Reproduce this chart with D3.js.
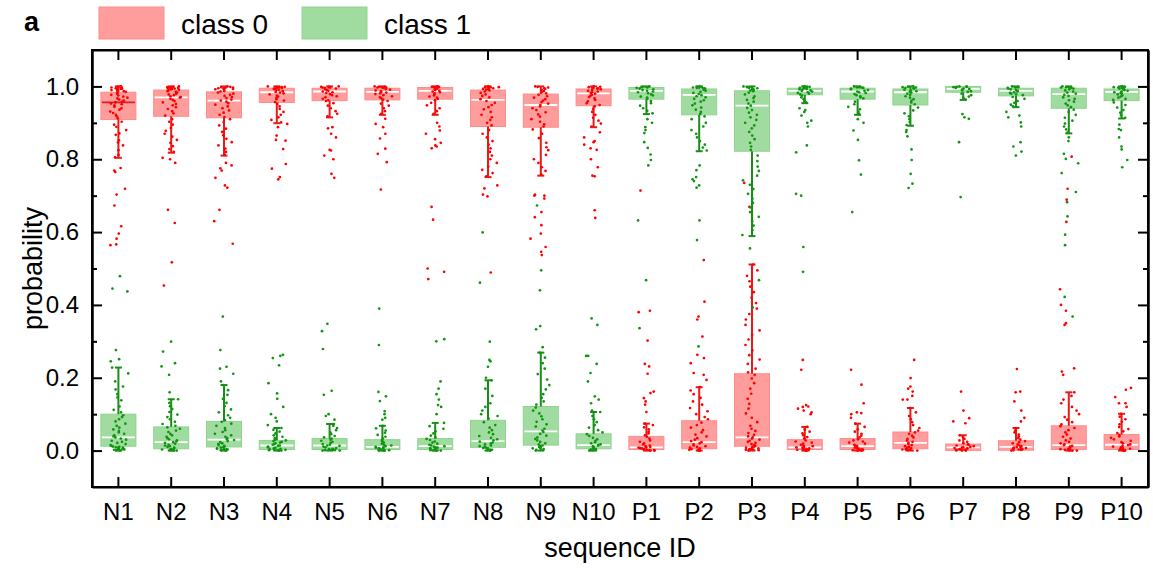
<!DOCTYPE html>
<html>
<head>
    <title>probability by sequence</title>
    <script src="https://cdnjs.cloudflare.com/ajax/libs/d3/7.8.5/d3.min.js"></script>
    <style>
        body { margin: 0; background: #fff; }
        text { font-family: "Liberation Sans", Arial, sans-serif; }
    </style>
</head>
<body>
    <div id="vis"></div>

    <script>
        var categories = ["N1","N2","N3","N4","N5","N6","N7","N8","N9","N10",
                          "P1","P2","P3","P4","P5","P6","P7","P8","P9","P10"];

        // box stats per sequence: [whisker low, q1, median, q3, whisker high]
        var class0Box = [
            [0.804,0.909,0.956,0.984,1.0], [0.818,0.918,0.970,0.990,1.0], [0.810,0.914,0.961,0.985,1.0],
            [0.899,0.956,0.984,0.995,1.0], [0.915,0.961,0.986,0.995,1.0], [0.922,0.963,0.985,0.995,1.0],
            [0.922,0.965,0.988,0.997,1.0], [0.751,0.890,0.963,0.990,1.0], [0.755,0.888,0.949,0.979,1.0],
            [0.888,0.947,0.981,0.993,1.0],
            [0,0.003,0.009,0.039,0.074], [0,0.005,0.023,0.082,0.174], [0,0.012,0.036,0.211,0.511],
            [0,0.003,0.009,0.030,0.065], [0,0.003,0.012,0.033,0.074], [0,0.005,0.021,0.051,0.117],
            [0,0.0,0.009,0.018,0.042], [0,0.001,0.010,0.027,0.062], [0,0.003,0.015,0.068,0.160],
            [0,0.003,0.016,0.044,0.101]
        ];
        var class1Box = [
            [0,0.012,0.036,0.100,0.228], [0,0.005,0.023,0.065,0.141], [0,0.010,0.030,0.080,0.180],
            [0,0.003,0.014,0.028,0.062], [0,0.003,0.014,0.033,0.073], [0,0.003,0.010,0.030,0.068],
            [0,0.003,0.012,0.033,0.076], [0,0.009,0.026,0.083,0.193], [0,0.015,0.053,0.121,0.269],
            [0,0.005,0.015,0.046,0.106],
            [0.924,0.965,0.988,0.997,1.0], [0.822,0.922,0.977,0.993,1.0], [0.589,0.822,0.947,0.988,1.0],
            [0.954,0.977,0.988,0.995,1.0], [0.922,0.965,0.986,0.995,1.0], [0.892,0.949,0.984,0.993,1.0],
            [0.963,0.984,0.993,1.0,1.0], [0.943,0.974,0.988,0.995,1.0], [0.871,0.940,0.979,0.995,1.0],
            [0.912,0.961,0.985,0.993,1.0]
        ];

        // single predictions, in thousandths
        var class0Pts = [
            "564 566 582 596 616 673 703 719 765 769 776 805 812 825 838 846 852 867 871 880 889 895 903 912 918 922 927 931 936 940 944 948 951 953 956 958 961 964 967 969 972 975 977 980 982 983 985 987 989 990 992 993 994 995 996 997 998 999 1000 999 997",
            "453 517 625 661 790 800 804 820 828 836 845 853 862 870 878 886 895 903 910 920 926 932 938 943 948 952 956 960 963 966 969 971 973 976 978 980 983 985 987 989 991 992 993 994 995 996 997 998 999 1000 998 996",
            "568 630 661 722 728 749 769 775 783 790 812 820 829 838 847 856 866 875 884 893 902 910 916 922 928 934 940 945 950 954 958 961 964 968 971 974 977 980 983 986 988 990 992 994 995 996 997 998 999 1000 993",
            "745 751 774 787 828 851 853 865 888 897 901 908 915 922 930 938 945 952 957 961 965 969 972 975 978 981 983 985 987 989 991 993 994 996 997 998 999 1000 999 998 997",
            "749 760 800 810 824 826 860 870 885 888 918 925 932 940 947 954 960 962 966 970 973 976 979 982 984 986 988 990 992 994 996 997 998 999 1000 999 997",
            "717 792 815 829 857 870 888 897 911 925 932 940 947 953 960 964 967 970 973 976 979 981 983 985 987 989 991 993 994 996 997 998 999 1000 999 998",
            "471 491 500 634 669 830 835 838 845 855 870 879 890 900 925 932 940 948 955 962 966 969 972 975 978 981 984 986 988 990 992 994 996 997 998 999 1000 999 998",
            "489 698 703 720 728 753 762 771 780 790 800 810 820 830 840 850 860 870 880 893 900 908 915 922 930 937 943 949 955 960 965 970 974 978 982 986 989 991 993 995 996 997 998 999 1000 998 994",
            "537 546 559 582 596 619 641 655 692 700 700 703 758 768 778 790 800 812 825 833 845 858 870 882 890 896 903 910 917 923 929 935 940 945 949 953 957 961 965 969 973 977 981 984 987 990 993 995 997 999 1000",
            "639 660 753 755 778 800 826 830 840 847 850 860 874 890 898 906 914 922 930 938 945 949 954 959 963 967 971 974 977 980 982 984 986 988 990 992 994 995 996 997 998 999 1000",
            "106 126 135 144 158 162 211 231 238 302 380 384 714 42 47 52 58 64 70 74 4 5 6 7 8 9 10 12 14 17 20 24 28 33 38 0 1 2 0 1",
            "194 208 213 240 254 263 313 360 368 409 523 86 92 100 108 117 126 135 145 155 165 174 6 8 10 12 14 17 20 23 26 30 34 39 44 50 56 63 70 77 0 1 2 3 4 0 2",
            "669 735 215 225 238 250 262 275 290 305 318 330 345 360 375 390 405 420 435 450 465 480 495 511 13 15 18 21 24 27 30 33 36 39 43 48 54 60 68 78 90 102 115 128 142 156 170 185 198 208 0 1 2 3 4 5 6 8 10 11",
            "100 105 110 115 120 121 125 222 249 33 37 42 47 52 58 65 4 5 6 7 8 9 10 12 14 16 19 22 25 28 0 1 2 0 1",
            "90 100 103 105 130 181 222 36 41 46 52 58 65 74 4 5 6 8 10 12 14 16 19 22 25 28 31 0 1 2 0 1",
            "140 140 150 162 170 176 199 249 55 62 70 78 86 95 105 117 6 8 10 12 15 18 21 24 28 32 36 41 46 50 0 1 2 3 4",
            "75 80 89 110 162 20 24 28 32 37 42 1 2 3 4 5 6 7 8 9 10 12 14 16 17 0 0 1",
            "80 90 110 135 160 162 224 30 34 39 44 50 56 62 2 3 4 5 6 7 8 9 10 12 14 17 20 23 26 0 1",
            "208 217 226 345 350 384 400 443 628 689 719 807 72 78 85 92 100 110 120 130 140 150 160 4 5 7 9 11 13 15 17 20 24 28 33 38 44 50 56 62 67 0 1 2 0 1",
            "120 130 130 147 167 172 48 53 59 65 72 79 86 93 101 4 5 7 9 11 13 15 17 20 23 27 31 35 39 43 0 1 2 0 1"
        ];
        var class1Pts = [
            "437 445 479 276 251 245 105 112 121 138 146 155 168 176 190 212 228 13 15 18 21 24 27 30 33 36 39 42 46 50 54 58 63 68 74 80 86 92 97 1 2 3 4 5 6 7 8 9 10 11 0 2 5",
            "160 208 231 240 272 299 68 73 79 86 92 99 106 114 122 131 141 6 8 10 12 14 16 19 21 23 25 28 31 34 38 42 46 51 55 60 64 0 1 1 2 3 4 0 2",
            "190 211 225 230 276 368 84 90 97 105 113 122 131 142 153 166 180 11 13 15 18 20 23 26 29 31 34 38 42 46 51 56 62 68 74 79 0 1 2 3 4 5 6 8 9",
            "70 80 90 100 120 142 157 185 234 254 260 263 30 34 38 42 47 52 57 62 4 5 6 8 9 11 13 14 16 18 20 22 24 26 28 0 1 2 3 0 1",
            "85 95 100 153 164 279 328 348 36 40 45 50 56 62 68 73 4 5 7 9 11 13 14 16 18 21 24 27 30 33 0 1 2 0 1 2",
            "85 90 100 108 136 149 161 290 390 33 38 43 49 55 61 68 4 5 6 7 8 9 10 12 14 16 19 22 25 28 0 1 2 0 1 2",
            "100 120 125 140 155 170 190 300 306 36 41 47 53 60 67 76 4 5 6 8 9 11 12 14 16 19 22 25 29 32 0 1 2 0 1",
            "200 230 245 249 299 461 599 88 95 100 110 120 130 150 170 193 10 12 14 17 19 22 25 28 31 35 40 45 50 56 63 70 78 0 1 2 3 5 7 8",
            "284 333 342 440 495 673 126 135 145 155 168 180 195 210 225 240 255 269 17 20 24 28 32 36 41 46 51 55 60 66 72 79 86 94 102 110 118 0 2 4 6 8 10 12 14",
            "110 130 140 149 190 213 238 260 260 345 363 50 56 63 70 78 86 95 106 6 8 10 12 14 15 17 20 23 27 31 35 40 45 0 1 2 3 4",
            "336 468 632 783 798 813 831 847 872 880 888 900 910 926 933 940 947 954 960 966 969 972 975 978 981 984 986 988 990 992 994 996 997 998 999 1000 999",
            "286 578 632 722 728 740 745 751 770 783 824 832 840 850 860 870 880 890 900 910 918 924 930 936 942 948 953 958 962 966 970 973 976 979 982 985 988 991 994 995 996 997 998 999 1000",
            "393 468 555 592 605 618 630 642 655 668 680 692 705 718 730 742 755 768 780 795 810 826 835 845 855 865 875 885 893 900 908 915 922 928 935 941 947 953 958 963 968 973 978 983 987 989 991 993 995 996 997 998 999 1000",
            "491 559 700 705 819 838 890 900 906 920 930 935 940 956 960 965 970 975 978 980 982 984 986 988 989 990 992 993 994 996 997 998 999 1000 999",
            "655 758 797 853 879 900 910 924 930 937 944 951 958 967 970 973 976 979 982 984 986 988 990 992 994 996 997 998 999 1000 998",
            "721 733 760 798 827 863 875 880 894 902 910 918 926 934 942 951 956 961 965 969 973 977 980 983 985 987 989 991 994 995 996 997 998 999 1000",
            "696 847 911 915 924 964 968 972 976 980 985 987 989 991 993 994 996 997 998 999 1000 1000 999",
            "810 821 835 847 890 901 915 920 930 945 950 955 960 966 971 976 978 980 982 984 986 988 990 992 994 996 997 998 999 1000",
            "368 422 564 593 643 682 710 762 789 801 815 850 860 874 882 890 898 906 914 922 930 936 943 948 953 958 962 966 970 974 977 980 983 986 989 992 994 996 997 998 999 1000",
            "778 798 827 835 860 880 883 895 914 921 928 935 942 949 956 963 966 969 972 975 978 980 982 984 986 988 990 992 994 995 996 997 998 999 1000"
        ];

        var yTicks = [0, 0.2, 0.4, 0.6, 0.8, 1.0];
        var yMinor = [0.1, 0.3, 0.5, 0.7, 0.9];

        var W = 1153, H = 570;
        var mLeft = 92, mRight = 1148, mTop = 50, mBottom = 487;

        var svg = d3.select("#vis").append("svg")
            .attr("width", W)
            .attr("height", H);

        var x = d3.scaleBand().domain(categories).range([mLeft, mRight]);
        var y = d3.scaleLinear().domain([-0.1, 1.1]).range([mBottom, mTop]);
        var boxW = 35;

        var series = [
            { box: class0Box, pts: class0Pts, fill: "#ff9c9c", edge: "#ff8c8c", line: "#ea1a1a", dot: "#ff0000" },
            { box: class1Box, pts: class1Pts, fill: "#a0dca0", edge: "#8fd38f", line: "#1b8c1b", dot: "#0e960e" }
        ];

        function cx(i) { return x(categories[i]) + x.bandwidth() / 2; }

        // scrambled horizontal spread so the dots don't line up
        function hash(n) {
            var s = Math.sin(n * 12.9898) * 43758.5453;
            return s - Math.floor(s);
        }

        // boxes
        series.forEach(function(s) {
            svg.append("g").selectAll("rect")
                .data(s.box)
                .enter().append("rect")
                .attr("x", function(d, i) { return cx(i) - boxW / 2; })
                .attr("y", function(d) { return y(d[3]); })
                .attr("width", boxW)
                .attr("height", function(d) { return Math.max(1, y(d[1]) - y(d[3])); })
                .style("fill", s.fill)
                .style("stroke", s.edge)
                .style("stroke-width", 1);
        });

        // whiskers with caps
        series.forEach(function(s) {
            var g = svg.append("g").style("stroke", s.line).style("stroke-width", 2);
            s.box.forEach(function(d, i) {
                var c = cx(i);
                [[d[3], d[4]], [d[1], d[0]]].forEach(function(w) {
                    if (Math.abs(y(w[0]) - y(w[1])) < 1) return;
                    g.append("line").attr("x1", c).attr("x2", c)
                        .attr("y1", y(w[0])).attr("y2", y(w[1]));
                    g.append("line").attr("x1", c - 3.5).attr("x2", c + 3.5)
                        .attr("y1", y(w[1])).attr("y2", y(w[1]));
                });
            });
        });

        // medians (N1 class 0 drawn dark red in the original)
        series.forEach(function(s, k) {
            svg.append("g").selectAll("line")
                .data(s.box)
                .enter().append("line")
                .attr("x1", function(d, i) { return cx(i) - boxW / 2 + 1; })
                .attr("x2", function(d, i) { return cx(i) + boxW / 2 - 1; })
                .attr("y1", function(d) { return y(d[2]); })
                .attr("y2", function(d) { return y(d[2]); })
                .style("stroke", function(d, i) { return (k == 0 && i == 0) ? "#d42020" : "#ffffff"; })
                .style("stroke-width", 1.8);
        });

        // jittered points
        series.forEach(function(s, k) {
            var g = svg.append("g").style("fill", s.dot);
            s.pts.forEach(function(str, i) {
                var vals = str.split(" ").map(function(v) { return +v / 1000; });
                g.selectAll(null)
                    .data(vals)
                    .enter().append("circle")
                    .attr("cx", function(v, j) {
                        var seed = j * 3.7 + i * 101.3 + k * 517.1;
                        var off = (hash(seed) + hash(seed + 0.5) - 1) * 11;
                        return cx(i) + off;
                    })
                    .attr("cy", function(v) { return y(v); })
                    .attr("r", 1.35);
            });
        });

        // axes
        function styleAxis(g) {
            g.selectAll("path,line").style("stroke", "#000").style("stroke-width", 2);
            g.selectAll("text").style("font-size", "24px").style("fill", "#000")
                .style("font-family", "'Liberation Sans', Arial, sans-serif");
        }

        svg.append("g").attr("transform", "translate(" + mLeft + ",0)")
            .call(d3.axisLeft(y).tickValues(yTicks).tickSize(-10).tickSizeOuter(0).tickPadding(13)
                .tickFormat(d3.format(".1f")))
            .call(styleAxis);
        svg.append("g").attr("transform", "translate(" + mLeft + ",0)")
            .call(d3.axisLeft(y).tickValues(yMinor).tickSize(-5).tickSizeOuter(0).tickFormat(""))
            .call(styleAxis);
        svg.append("g").attr("transform", "translate(" + mRight + ",0)")
            .call(d3.axisRight(y).tickValues(yTicks).tickSize(-10).tickSizeOuter(0).tickFormat(""))
            .call(styleAxis);
        svg.append("g").attr("transform", "translate(" + mRight + ",0)")
            .call(d3.axisRight(y).tickValues(yMinor).tickSize(-5).tickSizeOuter(0).tickFormat(""))
            .call(styleAxis);
        svg.append("g").attr("transform", "translate(0," + mBottom + ")")
            .call(d3.axisBottom(x).tickSize(-10).tickSizeOuter(0).tickPadding(16))
            .call(styleAxis);
        svg.append("g").attr("transform", "translate(0," + mTop + ")")
            .call(d3.axisTop(x).tickSize(-10).tickSizeOuter(0).tickFormat(""))
            .call(styleAxis);

        // frame
        svg.append("rect")
            .attr("x", mLeft).attr("y", mTop)
            .attr("width", mRight - mLeft).attr("height", mBottom - mTop)
            .style("fill", "none").style("stroke", "#000").style("stroke-width", 2);

        // axis titles
        svg.append("text")
            .attr("transform", "translate(42," + ((mTop + mBottom) / 2) + ") rotate(-90)")
            .attr("text-anchor", "middle")
            .style("font-size", "27px")
            .text("probability");
        svg.append("text")
            .attr("x", (mLeft + mRight) / 2).attr("y", 557)
            .attr("text-anchor", "middle")
            .style("font-size", "27px")
            .text("sequence ID");

        // panel letter and legend
        svg.append("text").attr("x", 24).attr("y", 31)
            .style("font-size", "27px").style("font-weight", "bold")
            .text("a");

        var legend = [["class 0", series[0]], ["class 1", series[1]]];
        var lg = svg.append("g").selectAll("g")
            .data(legend)
            .enter().append("g")
            .attr("transform", function(d, i) { return "translate(" + (99 + i * 203) + ",7)"; });
        lg.append("rect")
            .attr("width", 65).attr("height", 32)
            .style("fill", function(d) { return d[1].fill; })
            .style("stroke", function(d) { return d[1].edge; });
        lg.append("text")
            .attr("x", 82).attr("y", 27)
            .style("font-size", "28px")
            .text(function(d) { return d[0]; });
    </script>
</body>
</html>
